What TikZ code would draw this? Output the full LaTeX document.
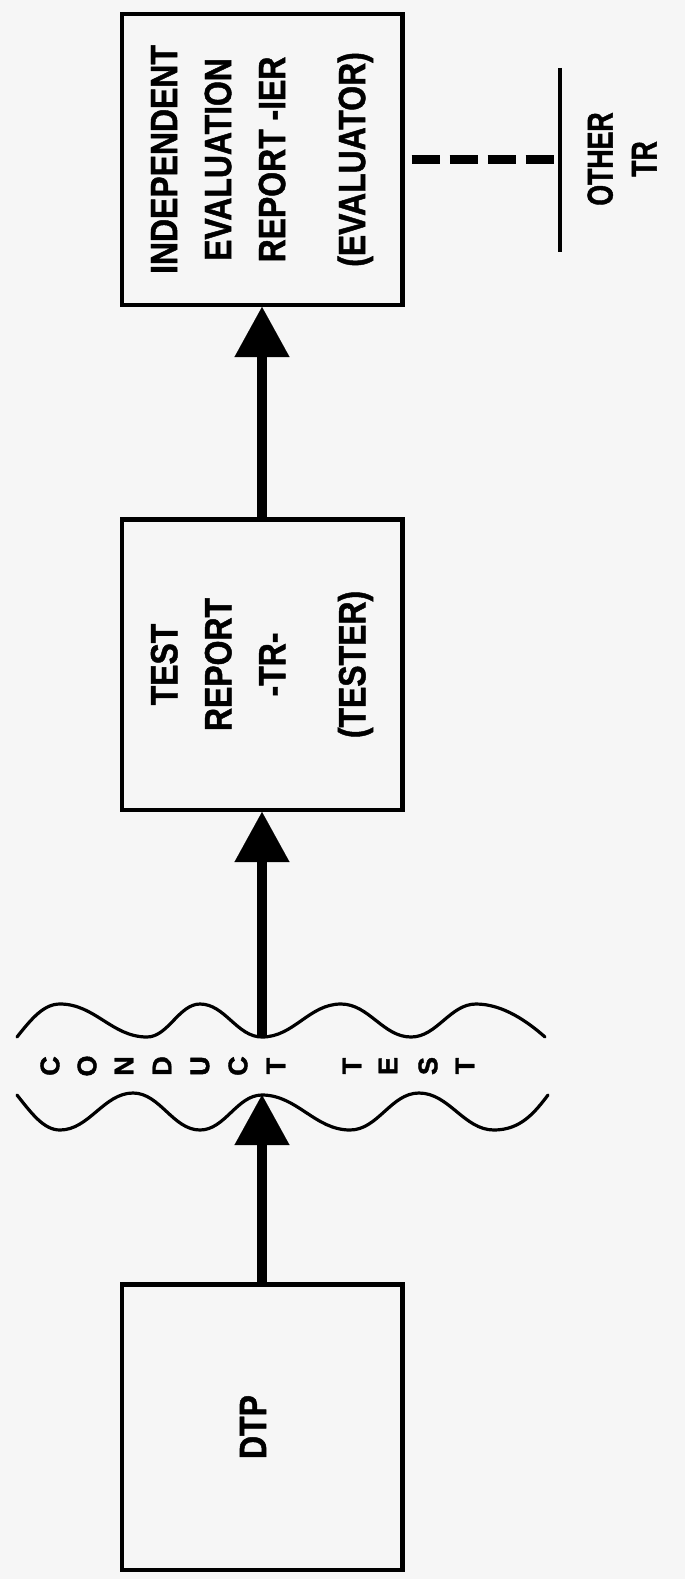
\documentclass[tikz,border=0pt]{standalone}
\usepackage{fontspec}
\usetikzlibrary{arrows.meta}
\newfontfamily\boxfont{Liberation Sans}[FakeStretch=0.84, BoldFeatures={FakeBold=1.2}]
\newfontfamily\otherfont{Liberation Sans}[FakeStretch=0.74, BoldFeatures={FakeBold=1.2}]
\newfontfamily\letterfont{Liberation Sans}[BoldFeatures={FakeBold=1.5}]
\definecolor{bg}{RGB}{246,246,246}
\begin{document}
\begin{tikzpicture}[x=1pt,y=-1pt,
  box/.style={draw, line width=4.5pt, rotate=90, inner sep=0pt, align=center,
    minimum height=280.5pt, font=\boxfont\bfseries\fontsize{38}{54}\selectfont},
  flow/.style={line width=10pt, -{Triangle[length=50pt,width=55pt,line width=0.1pt]}},
  wave/.style={line width=3.2pt, line cap=round},
  ctletter/.style={rotate=90, inner sep=0pt, font=\letterfont\bfseries\fontsize{27}{27}\selectfont},
  othertext/.style={rotate=90, inner sep=0pt, align=center, font=\otherfont\bfseries\fontsize{36}{44}\selectfont},
  dashconn/.style={line width=9pt, dash pattern=on 28pt off 10pt, dash phase=31pt},
  bar/.style={line width=4pt}
]
\fill[bg] (0,0) rectangle (685,1579);
\useasboundingbox (0,0) rectangle (685,1579);

\node[box, minimum width=290.5pt] (ier) at (262,159.5) {INDEPENDENT\\EVALUATION\\REPORT -IER\\[26pt](EVALUATOR)};
\node[box, minimum width=290.5pt] (tr) at (262,664.5) {TEST\\REPORT\\-TR-\\[26pt](TESTER)};
\node[box, minimum width=285.5pt, text depth=18pt] (dtp) at (262,1427) {DTP};

% other TR
\coordinate (othtop) at (560,68);
\coordinate (othbot) at (560,252);
\coordinate (oth) at (560,159.5);
\draw[bar] (othtop) -- (othbot);
\draw[dashconn] (ier.south) -- (oth);
\node[othertext] (other) at (622,159) {OTHER\\TR};

% waves
\draw[wave] (17,1037) .. controls (32,1018) and (44,1004) .. (60,1004)
  .. controls (95,1004) and (112,1037) .. (147,1037)
  .. controls (168,1037) and (179,1004) .. (200,1004)
  .. controls (225,1004) and (237,1037) .. (262,1037)
  .. controls (294,1037) and (309,1004) .. (341,1004)
  .. controls (369,1004) and (383,1037) .. (411,1037)
  .. controls (437,1037) and (450,1004) .. (476,1004)
  .. controls (503,1004) and (528,1022) .. (545,1037);
\draw[wave] (17,1095) .. controls (32,1114) and (44,1130) .. (60,1130)
  .. controls (89,1130) and (104,1093) .. (133,1093)
  .. controls (160,1093) and (173,1130) .. (200,1130)
  .. controls (225,1130) and (237,1095) .. (262,1095)
  .. controls (297,1095) and (315,1130) .. (350,1130)
  .. controls (378,1130) and (391,1093) .. (419,1093)
  .. controls (449,1093) and (464,1130) .. (494,1130)
  .. controls (521,1130) and (535,1112) .. (548,1095);
\coordinate (wtop) at (262,1037);
\coordinate (wbot) at (262,1095);

\foreach \ch/\xx [count=\i] in {C/50, O/87, N/124, D/162, U/200, C/238, T/276, T/352, E/388, S/428, T/465}
  \node[ctletter] (ct\i) at (\xx,1066) {\ch};

% connectors
\draw[flow] (tr.east) -- (ier.west);
\draw[flow] (wtop) -- (tr.west);
\draw[flow] (dtp.east) -- (wbot);
\end{tikzpicture}
\end{document}
